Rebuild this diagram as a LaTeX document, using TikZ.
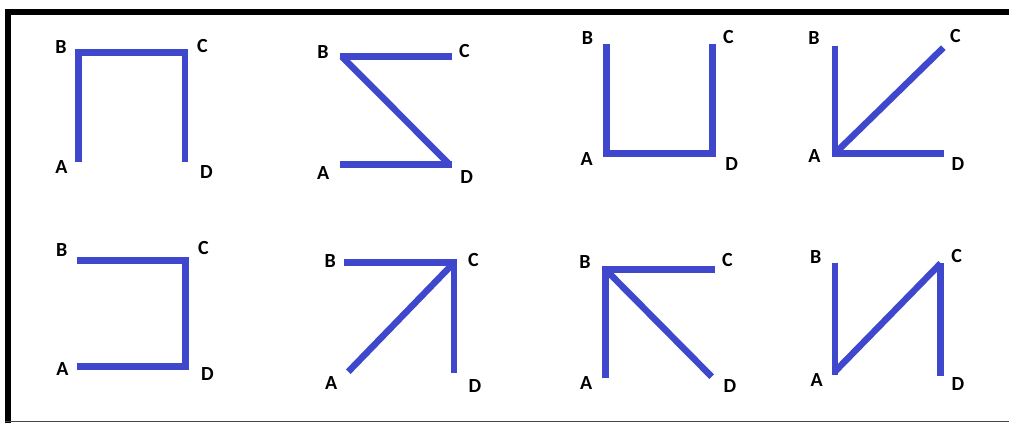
\documentclass[tikz,border=0pt]{standalone}
\usepackage{fontspec}
\setmainfont{Carlito}
\definecolor{paintblue}{RGB}{63,72,204}
\definecolor{framegray}{RGB}{70,70,70}
\tikzset{
  seg/.style={draw=paintblue, line width=6.5pt, line cap=butt, line join=miter},
  lbl/.style={font=\bfseries\fontsize{20}{20}\selectfont, inner sep=0pt, anchor=center, text=black}
}
\begin{document}
\begin{tikzpicture}[x=1pt,y=-1pt]
\useasboundingbox (0,0) rectangle (1009,423);
\fill[white] (0,0) rectangle (1009,423);
% frame
\fill[black] (5,9) rectangle (1009,15);
\fill[black] (5,9) rectangle (11,423);
\fill[framegray] (5,420.8) rectangle (1009,422.3);

% Panel 1
\coordinate (a1) at (78.5,162); \coordinate (b1) at (78.5,52.7);
\coordinate (c1) at (185,52.7); \coordinate (d1) at (185,162);
\node[lbl] (A1) at (61.5,167.5) {A}; \node[lbl] (B1) at (61,47.5) {B};
\node[lbl] (C1) at (202.5,46.5) {C}; \node[lbl] (D1) at (206.5,172.5) {D};
\draw[seg] (a1) -- (b1) -- (c1) -- (d1);

% Panel 2
\coordinate (a2) at (340,164.5); \coordinate (b2) at (342,56.7);
\coordinate (bb2) at (340,56.7);
\coordinate (c2) at (452,56.7); \coordinate (d2) at (452,164.5);
\coordinate (dd2) at (448,163);
\node[lbl] (A2) at (323.3,173) {A}; \node[lbl] (B2) at (323,51.7) {B};
\node[lbl] (C2) at (464.5,50.8) {C}; \node[lbl] (D2) at (466.7,176.7) {D};
\draw[seg] (a2) -- (d2);
\draw[seg] (dd2) -- (b2);
\draw[seg] (bb2) -- (c2);

% Panel 3
\coordinate (a3) at (606.7,153.3); \coordinate (b3) at (606.7,44);
\coordinate (c3) at (712.7,44); \coordinate (d3) at (712.7,153.3);
\node[lbl] (A3) at (586.7,159) {A}; \node[lbl] (B3) at (587.5,38.3) {B};
\node[lbl] (C3) at (728.3,37.3) {C}; \node[lbl] (D3) at (731.7,164) {D};
\draw[seg] (b3) -- (a3) -- (d3) -- (c3);

% Panel 4
\coordinate (a4) at (835,153.3); \coordinate (b4) at (835,45.7);
\coordinate (c4) at (943.3,47.7); \coordinate (d4) at (944.3,153.3);
\node[lbl] (A4) at (814.5,155.7) {A}; \node[lbl] (B4) at (814,38.3) {B};
\node[lbl] (C4) at (955.5,36.3) {C}; \node[lbl] (D4) at (958,164) {D};
\draw[seg] (b4) -- (a4) -- (d4);
\draw[seg] (a4) -- (c4);

% Panel 5
\coordinate (a5) at (76.7,366.7); \coordinate (b5) at (76.7,260.3);
\coordinate (c5) at (185.7,260.3); \coordinate (d5) at (185.7,366.7);
\node[lbl] (A5) at (62.5,369.2) {A}; \node[lbl] (B5) at (61.7,250) {B};
\node[lbl] (C5) at (203.3,248.3) {C}; \node[lbl] (D5) at (207.5,374.2) {D};
\draw[seg] (b5) -- (c5) -- (d5) -- (a5);

% Panel 6
\coordinate (a6) at (348.3,371.7); \coordinate (b6) at (344.3,262.7);
\coordinate (c6) at (454,262.7); \coordinate (d6) at (454,373.3);
\node[lbl] (A6) at (331.2,383.3) {A}; \node[lbl] (B6) at (330.3,261.2) {B};
\node[lbl] (C6) at (473.3,260.3) {C}; \node[lbl] (D6) at (475,385.8) {D};
\draw[seg] (b6) -- (c6) -- (d6);
\draw[seg] (a6) -- (c6);

% Panel 7
\coordinate (a7) at (605.3,378.3); \coordinate (b7) at (605.3,269.3);
\coordinate (c7) at (715,269.3); \coordinate (d7) at (711.7,376.7);
\node[lbl] (A7) at (586.3,383.3) {A}; \node[lbl] (B7) at (585,261.7) {B};
\node[lbl] (C7) at (727.5,260) {C}; \node[lbl] (D7) at (730,385.8) {D};
\draw[seg] (a7) -- (b7) -- (c7);
\draw[seg] (b7) -- (d7);

% Panel 8
\coordinate (a8) at (835,375); \coordinate (b8) at (835,262.7);
\coordinate (aa8) at (835,371.5);
\coordinate (c8) at (940.7,263.3); \coordinate (d8) at (940.7,376);
\node[lbl] (A8) at (816.7,380) {A}; \node[lbl] (B8) at (815.8,257.3) {B};
\node[lbl] (C8) at (956.7,256.3) {C}; \node[lbl] (D8) at (958,384.2) {D};
\draw[seg] (b8) -- (a8);
\draw[seg] (aa8) -- (c8);
\draw[seg] (c8) -- (d8);
\end{tikzpicture}
\end{document}
